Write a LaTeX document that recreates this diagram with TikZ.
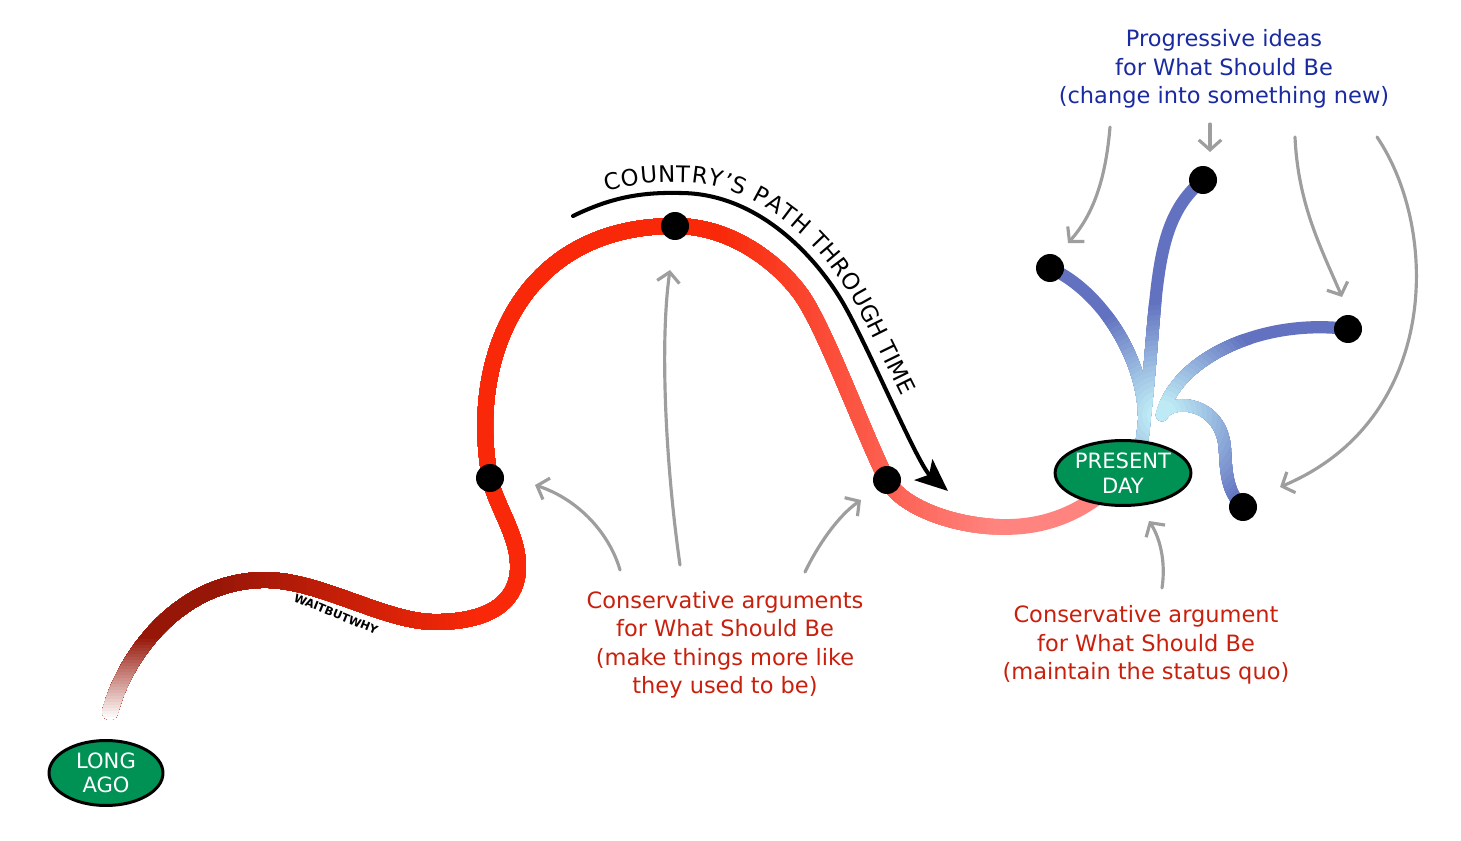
\documentclass[tikz,border=0pt]{standalone}
\usepackage{fontspec}
\setmainfont{DejaVu Sans}
\usepackage{tikz}
\usetikzlibrary{arrows.meta, positioning, shapes.geometric, decorations.text, backgrounds}

\definecolor{oldred}{RGB}{150,22,8}
\definecolor{pathred}{RGB}{248,40,8}
\definecolor{nowpink}{RGB}{255,132,128}
\definecolor{hubcyan}{RGB}{190,234,245}
\definecolor{ideablue}{RGB}{98,114,192}
\definecolor{eragreen}{RGB}{0,145,85}
\definecolor{consred}{RGB}{200,32,12}
\definecolor{progblue}{RGB}{26,42,160}
\definecolor{hintgrey}{RGB}{158,158,158}

\tikzset{
  era/.style={
    ellipse,
    draw=black,
    line width=1.7pt,
    fill=eragreen,
    text=white,
    align=center,
    inner sep=0pt,
    minimum width=2.28cm,
    minimum height=1.3cm,
    font=\fontsize{12}{14}\selectfont
  },
  dot/.style={
    circle,
    fill=black,
    minimum size=0.56cm,
    inner sep=0pt
  },
  caption/.style={
    align=center,
    font=\fontsize{12.8}{16.2}\selectfont
  },
  trail/.style={
    line width=9pt,
    line cap=round
  },
  branch/.style={
    line width=7pt,
    line cap=round
  },
  hint/.style={
    draw=hintgrey,
    line width=1.8pt,
    line cap=round,
    -{Straight Barb[length=2mm,width=4.5mm]}
  },
  timearrow/.style={
    draw=black,
    line width=2.3pt,
    line cap=round,
    -{Stealth[length=6.5mm,width=5.5mm,inset=1.5mm]}
  }
}

\newcommand\countrypath{
  (110,712) .. controls (125,655) and (180,580) .. (265,580)
  .. controls (320,580) and (385,622) .. (435,622)
  .. controls (495,622) and (519,598) .. (518,565)
  .. controls (518,535) and (494,502) .. (past1.center)
  .. controls (468,360) and (520,226) .. (past2.center)
  .. controls (730,226) and (776,261) .. (800,293)
  .. controls (824,325) and (864,435) .. (past3.center)
  .. controls (901,507) and (955,527) .. (1005,527)
  .. controls (1050,527) and (1090,510) .. (present.center)}

\newcommand\ideabranches{
  (present.60) .. controls (1155,380) and (1110,295) .. (idea1.center)
  (present.60) .. controls (1160,300) and (1148,225) .. (idea2.center)
  (hub) .. controls (1175,360) and (1260,318) .. (idea3.center)
  (hub) .. controls (1170,398) and (1222,400) .. (1225,450)
        .. controls (1226,480) and (1230,495) .. (idea4.center)}

\newcommand\timeline{
  (tstart) .. controls (610,198) and (640,192) .. (680,193)
  .. controls (760,193) and (818,260) .. (843,303)
  .. controls (868,346) and (918,465) .. (tend)}

\begin{document}
\begin{tikzpicture}[x=0.02cm, y=-0.02cm]
  \useasboundingbox (0,0) rectangle (1461,841);

  \node[era] (longago) at (106,773) {LONG\\AGO};
  \node[era] (present) at (1123,473) {PRESENT\\DAY};

  \node[dot] (past1) at (490,478) {};
  \node[dot] (past2) at (675,226) {};
  \node[dot] (past3) at (887,480) {};
  \node[dot] (idea1) at (1050,268) {};
  \node[dot] (idea2) at (1203,180) {};
  \node[dot] (idea3) at (1348,329) {};
  \node[dot] (idea4) at (1243,507) {};
  \coordinate (hub) at (1162,415);

  \node[caption, text=progblue] (progidea) at (1224,69)
    {Progressive ideas\\for What Should Be\\(change into something new)};
  \node[caption, text=consred] (consback) at (725,645)
    {Conservative arguments\\for What Should Be\\(make things more like\\they used to be)};
  \node[caption, text=consred] (consquo) at (1146,645)
    {Conservative argument\\for What Should Be\\(maintain the status quo)};

  \node[rotate=-22, font=\fontsize{6.5}{7}\selectfont\bfseries] (wbw) at (336,614) {WAITBUTWHY};

  \begin{pgfonlayer}{background}
    % path through time, dark on the left and pale on the right
    \draw[trail, nowpink] \countrypath;
    \foreach \X in {1000,993,...,720}{
      \pgfmathsetmacro\trailmix{(\X-720)/2.8}
      \colorlet{trailtint}{nowpink!\trailmix!pathred}
      \begin{scope}
        \clip (0,0) rectangle (\X,841);
        \draw[trail, trailtint] \countrypath;
      \end{scope}
    }
    \foreach \X in {480,474,...,216}{
      \pgfmathsetmacro\trailmix{(\X-216)/2.64}
      \colorlet{trailtint}{pathred!\trailmix!oldred}
      \begin{scope}
        \clip (0,0) rectangle (\X,841);
        \draw[trail, trailtint] \countrypath;
      \end{scope}
    }
    \foreach \Y in {636,639,...,717}{
      \pgfmathsetmacro\trailmix{(\Y-636)/0.81}
      \colorlet{trailtint}{white!\trailmix!oldred}
      \begin{scope}
        \clip (0,\Y) rectangle (190,841);
        \draw[trail, trailtint] \countrypath;
      \end{scope}
    }
    % branches into the future, pale at the hub
    \draw[branch, ideablue] \ideabranches;
    \foreach \r in {115,110,...,15}{
      \pgfmathsetmacro\trailmix{(\r-15)}
      \pgfmathsetmacro\hubr{\r*0.02}
      \colorlet{branchtint}{ideablue!\trailmix!hubcyan}
      \begin{scope}
        \clip (hub) circle[radius=\hubr cm];
        \draw[branch, branchtint] \ideabranches;
      \end{scope}
    }
  \end{pgfonlayer}

  \coordinate (tstart) at (573,216);
  \coordinate (tend) at (948,491);
  \draw[timearrow] \timeline;
  \path[decorate, decoration={text along path, raise=6pt,
    text align={left indent=22pt},
    text={|\fontsize{13}{13}\selectfont|COUNTRY'S PATH THROUGH TIME}}] \timeline;

  \coordinate (h1s) at (620,570);   \coordinate (h1e) at (535,485);
  \coordinate (h2s) at (680,565);   \coordinate (h2e) at (670,270);
  \coordinate (h3s) at (805,572);   \coordinate (h3e) at (861,500);
  \coordinate (h4s) at (1162,588);  \coordinate (h4e) at (1149,521);
  \coordinate (h5s) at (1110,127);  \coordinate (h5e) at (1068,243);
  \coordinate (h6s) at (1210,124);  \coordinate (h6e) at (1210,152);
  \coordinate (h7s) at (1295,137);  \coordinate (h7e) at (1342,297);
  \coordinate (h8s) at (1377,137);  \coordinate (h8e) at (1280,487);

  \draw[hint] (h1s) .. controls (610,535) and (580,500) .. (h1e);
  \draw[hint] (h2s) .. controls (665,460) and (660,340) .. (h2e);
  \draw[hint] (h3s) .. controls (818,545) and (838,516) .. (h3e);
  \draw[hint] (h4s) .. controls (1166,562) and (1160,538) .. (h4e);
  \draw[hint] (h5s) .. controls (1106,175) and (1095,213) .. (h5e);
  \draw[hint] (h6s) -- (h6e);
  \draw[hint] (h7s) .. controls (1298,205) and (1322,250) .. (h7e);
  \draw[hint] (h8s) .. controls (1440,230) and (1440,420) .. (h8e);
\end{tikzpicture}
\end{document}
